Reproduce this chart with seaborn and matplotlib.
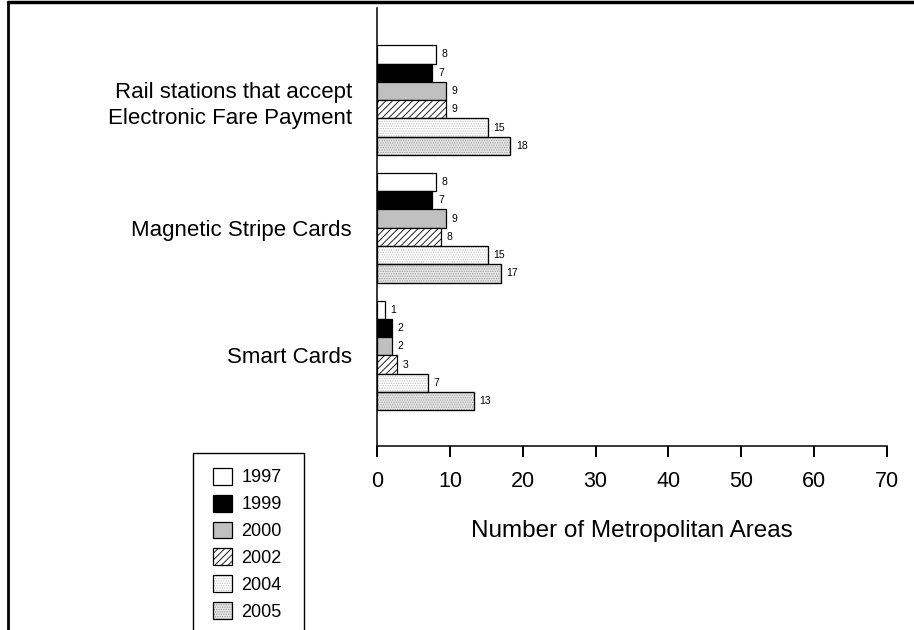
import pandas as pd
import matplotlib.pyplot as plt
import seaborn as sns
from matplotlib.patches import Patch, Rectangle
from matplotlib.lines import Line2D
from matplotlib.legend_handler import HandlerTuple

# Datos
categories = ["Rail stations that accept\nElectronic Fare Payment",
              "Magnetic Stripe Cards", "Smart Cards"]
years = ["1997", "1999", "2000", "2002", "2004", "2005"]
# largo de las barras (estimado) y etiqueta impresa
bar_values = {
    "1997": [8.1, 8.1, 1.1],
    "1999": [7.6, 7.6, 2.0],
    "2000": [9.5, 9.5, 2.0],
    "2002": [9.5, 8.8, 2.7],
    "2004": [15.2, 15.2, 7.0],
    "2005": [18.3, 17.0, 13.3],
}
bar_labels = {
    "1997": ["8", "8", "1"],
    "1999": ["7", "7", "2"],
    "2000": ["9", "9", "2"],
    "2002": ["9", "8", "3"],
    "2004": ["15", "15", "7"],
    "2005": ["18", "17", "13"],
}

rows = []
for y in years:
    for c, v in zip(categories, bar_values[y]):
        rows.append({"category": c, "year": y, "value": v})
df = pd.DataFrame(rows)

sns.set_style("ticks")
plt.rcParams["font.family"] = ["Liberation Sans", "DejaVu Sans"]
plt.rcParams["text.color"] = "black"
plt.rcParams["xtick.color"] = "black"
plt.rcParams["ytick.color"] = "black"
plt.rcParams["axes.labelcolor"] = "black"
plt.rcParams["hatch.linewidth"] = 0.6

faces = {"1997": "white", "1999": "black", "2000": "#c0c0c0",
         "2002": "white", "2004": "white", "2005": "#e6e6e6"}
hatches = {"1997": None, "1999": None, "2000": None,
           "2002": "/////", "2004": ".......", "2005": "......."}
dotted = {"2004": "#c0c0c0", "2005": "#9c9c9c"}

fig = plt.figure(figsize=(9.14, 6.3), dpi=100)
ax = fig.add_axes([0.4125, 0.292, 0.558, 0.695])

sns.barplot(data=df, x="value", y="category", hue="year", order=categories,
            hue_order=years, palette=faces, width=0.86, orient="h",
            edgecolor="black", linewidth=0.9, legend=False, ax=ax)

for year, cont in zip(years, ax.containers):
    for bar in cont:
        if year in dotted:
            bar.set_hatch(hatches[year])
            bar.set_edgecolor(dotted[year])
            ax.add_patch(Rectangle(bar.get_xy(), bar.get_width(), bar.get_height(),
                                   fill=False, edgecolor="black", linewidth=0.9))
        elif hatches[year]:
            bar.set_hatch(hatches[year])
    ax.bar_label(cont, labels=bar_labels[year], padding=4, fontsize=7.5)

ax.set_xlim(0, 70)
ax.set_ylim(2.71, -0.72)
ax.set_xticks(range(0, 71, 10))
ax.set_ylabel("")
ax.set_xlabel("Number of Metropolitan Areas", fontsize=17.5, labelpad=20)
ax.tick_params(axis="x", labelsize=15.5, length=8, width=1.4, pad=10)
ax.tick_params(axis="y", labelsize=16, length=0, pad=18)
for t in ax.get_yticklabels():
    t.set_linespacing(1.35)
sns.despine(ax=ax)
for s in ["left", "bottom"]:
    ax.spines[s].set_color("black")
    ax.spines[s].set_linewidth(1.1)

# leyenda
handles = []
for y in years:
    if y in dotted:
        handles.append((Patch(facecolor=faces[y], edgecolor=dotted[y], hatch=hatches[y], linewidth=0),
                        Patch(fill=False, edgecolor="black", linewidth=0.9)))
    else:
        handles.append(Patch(facecolor=faces[y], edgecolor="black", hatch=hatches[y], linewidth=0.9))
leg = fig.legend(handles, years, loc="upper left", bbox_to_anchor=(0.2155, 0.283),
                 fontsize=13, frameon=False, handlelength=1.05, handleheight=1.05,
                 handletextpad=0.5, labelspacing=0.46,
                 handler_map={tuple: HandlerTuple(ndivide=1)})
fig.add_artist(Rectangle((193 / 914, -0.02), (304 - 193) / 914, 0.02 + 1 - 453 / 630,
                         transform=fig.transFigure, fill=False, edgecolor="black", linewidth=1.0))

# marco de la imagen
fig.add_artist(Line2D([8 / 914, 1], [0.997, 0.997], transform=fig.transFigure, color="black", linewidth=2.5))
fig.add_artist(Line2D([8 / 914, 8 / 914], [0, 0.997], transform=fig.transFigure, color="black", linewidth=2))

fig.savefig("out.png", dpi=100)
